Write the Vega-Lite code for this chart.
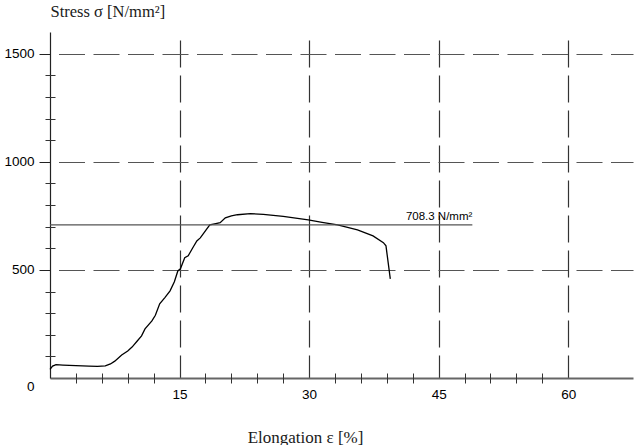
{
  "$schema": "https://vega.github.io/schema/vega-lite/v6.json",
  "width": 583,
  "height": 346,
  "autosize": "none",
  "padding": {"left": 50, "top": 32, "right": 7, "bottom": 67},
  "background": "white",
  "config": {
    "view": {"stroke": null},
    "axis": {
      "labelFont": "Liberation Sans",
      "labelFontSize": 13.5,
      "labelColor": "#000",
      "titleFont": "Liberation Serif",
      "titleFontWeight": "normal",
      "titleColor": "#1a1a1a"
    }
  },
  "datasets": {
    "curve": [
      {"elongation": 0, "stress": 40},
      {"elongation": 0.3, "stress": 55},
      {"elongation": 0.7, "stress": 62},
      {"elongation": 1.5, "stress": 60},
      {"elongation": 3, "stress": 57},
      {"elongation": 4.5, "stress": 55},
      {"elongation": 5.5, "stress": 54},
      {"elongation": 6.4, "stress": 56},
      {"elongation": 7, "stress": 65},
      {"elongation": 7.5, "stress": 78},
      {"elongation": 8.3, "stress": 106},
      {"elongation": 9, "stress": 125},
      {"elongation": 9.5, "stress": 143},
      {"elongation": 10.1, "stress": 171},
      {"elongation": 10.6, "stress": 195},
      {"elongation": 11, "stress": 227},
      {"elongation": 11.8, "stress": 264},
      {"elongation": 12.2, "stress": 290},
      {"elongation": 12.7, "stress": 343},
      {"elongation": 13.3, "stress": 372},
      {"elongation": 13.9, "stress": 403},
      {"elongation": 14.4, "stress": 445},
      {"elongation": 14.8, "stress": 495},
      {"elongation": 15.1, "stress": 505},
      {"elongation": 15.6, "stress": 556},
      {"elongation": 16, "stress": 565},
      {"elongation": 16.5, "stress": 600},
      {"elongation": 17, "stress": 634},
      {"elongation": 17.4, "stress": 648},
      {"elongation": 17.8, "stress": 670},
      {"elongation": 18.5, "stress": 708},
      {"elongation": 19.2, "stress": 714},
      {"elongation": 19.7, "stress": 718},
      {"elongation": 20.3, "stress": 741},
      {"elongation": 21, "stress": 750},
      {"elongation": 21.7, "stress": 755},
      {"elongation": 23.2, "stress": 760},
      {"elongation": 24.7, "stress": 757},
      {"elongation": 27, "stress": 747},
      {"elongation": 29.9, "stress": 731},
      {"elongation": 31.5, "stress": 720},
      {"elongation": 33.3, "stress": 708},
      {"elongation": 35.6, "stress": 685},
      {"elongation": 37.4, "stress": 657},
      {"elongation": 38.6, "stress": 626},
      {"elongation": 38.9, "stress": 611},
      {"elongation": 39.4, "stress": 458}
    ],
    "yield": [
      {"stress": 708.3, "from": 0, "to": 48.9, "label": "708.3 N/mm²"}
    ]
  },
  "layer": [
    {
      "data": {"name": "curve"},
      "mark": {"type": "line", "color": "#000", "strokeWidth": 1.3},
      "encoding": {
        "x": {
          "field": "elongation",
          "type": "quantitative",
          "scale": {"domain": [0, 67.5], "nice": false, "zero": false},
          "axis": {
            "orient": "bottom",
            "values": [15, 30, 45, 60],
            "ticks": false,
            "grid": true,
            "gridColor": "#333",
            "gridWidth": 1.2,
            "gridDash": [27, 8],
            "gridDashOffset": 27,
            "domainColor": "#666",
            "domainWidth": 1.8,
            "labelPadding": 9,
            "title": "Elongation ε [%]",
            "titleFontSize": 17,
            "titleX": 255,
            "titleY": 59,
            "titleBaseline": "middle"
          }
        },
        "y": {
          "field": "stress",
          "type": "quantitative",
          "scale": {"domain": [0, 1600], "nice": false},
          "axis": {
            "orient": "left",
            "values": [0, 500, 1000, 1500],
            "format": "d",
            "tickSize": 11,
            "tickColor": "#222",
            "tickOpacity": {"condition": {"test": "datum.value === 0", "value": 0}, "value": 1},
            "grid": true,
            "gridColor": "#555",
            "gridWidth": 1.2,
            "gridDash": [26, 8.5],
            "gridDashOffset": 26,
            "gridOpacity": {"condition": {"test": "datum.value === 0", "value": 0}, "value": 1},
            "domainColor": "#222",
            "domainWidth": 1.2,
            "labelPadding": 5,
            "labelOffset": {"condition": {"test": "datum.value === 0", "value": 8}, "value": 0},
            "title": "Stress σ [N/mm²]",
            "titleFontSize": 16.5,
            "titleAngle": 0,
            "titleAlign": "left",
            "titleBaseline": "middle",
            "titleX": 0,
            "titleY": -21
          }
        }
      }
    },
    {
      "data": {"name": "yield"},
      "mark": {"type": "rule", "color": "#555", "strokeWidth": 1.2},
      "encoding": {
        "x": {
          "field": "from",
          "type": "quantitative",
          "axis": {
            "orient": "bottom",
            "values": [3, 6, 9, 12, 18, 21, 24, 27, 33, 36, 39, 42, 48, 51, 54, 57],
            "offset": -5,
            "tickSize": 10,
            "tickColor": "#333",
            "domain": false,
            "labels": false,
            "grid": false,
            "title": null
          }
        },
        "x2": {"field": "to"},
        "y": {
          "field": "stress",
          "type": "quantitative",
          "axis": {
            "orient": "left",
            "values": [100, 200, 300, 400, 600, 700, 800, 900, 1100, 1200, 1300, 1400],
            "offset": -5,
            "tickSize": 10,
            "tickColor": "#333",
            "domain": false,
            "labels": false,
            "grid": false,
            "title": null
          }
        }
      }
    },
    {
      "data": {"name": "yield"},
      "mark": {
        "type": "text",
        "align": "right",
        "baseline": "alphabetic",
        "dy": -5,
        "font": "Liberation Sans",
        "fontSize": 11.5,
        "color": "#000"
      },
      "encoding": {
        "x": {"field": "to", "type": "quantitative", "axis": null},
        "y": {"field": "stress", "type": "quantitative", "axis": null},
        "text": {"field": "label"}
      }
    }
  ],
  "resolve": {"axis": {"x": "independent", "y": "independent"}}
}
